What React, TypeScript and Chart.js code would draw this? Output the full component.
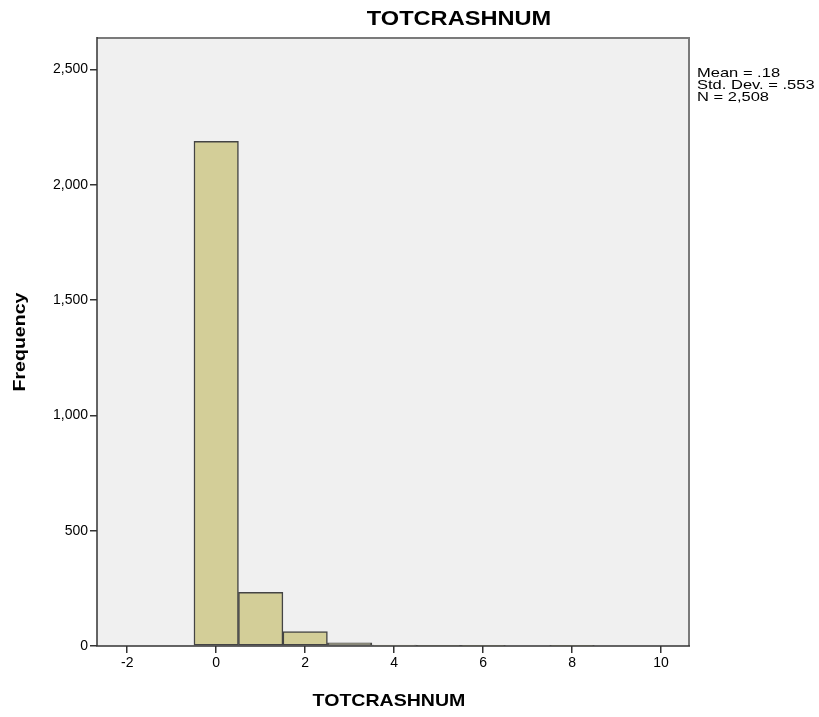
import React, { useEffect, useRef } from "react";
import { Chart, registerables } from "chart.js";

Chart.register(...registerables);

// ---- data ----
const binCenters = [0, 1, 2, 3, 4, 5, 6, 7, 8];
const frequencies = [2188, 233, 62, 14, 4, 3, 2, 0, 2];
const xTickValues = [-2, 0, 2, 4, 6, 8, 10];
const yTickValues = [0, 500, 1000, 1500, 2000, 2500];
const chartTitle = "TOTCRASHNUM";
const xAxisTitle = "TOTCRASHNUM";
const yAxisTitle = "Frequency";
const statsLines = ["Mean = .18", "Std. Dev. = .553", "N = 2,508"];
const xRange = [-2.68, 10.63];
const yRange = [0, 2636];

const FONT = "Arial, 'Liberation Sans', sans-serif";

function drawText(
  ctx: CanvasRenderingContext2D,
  text: string,
  x: number,
  y: number,
  font: string,
  sx: number,
  align: CanvasTextAlign,
  rotate = 0
) {
  ctx.save();
  ctx.translate(x, y);
  if (rotate) ctx.rotate(rotate);
  ctx.scale(sx, 1);
  ctx.font = font;
  ctx.fillStyle = "#000";
  ctx.textAlign = align;
  ctx.textBaseline = "middle";
  ctx.fillText(text, 0, 0);
  ctx.restore();
}

const decorPlugin = {
  id: "decor",
  beforeDraw(chart: any) {
    const { ctx, chartArea: a } = chart;
    ctx.save();
    ctx.fillStyle = "#f0f0f0";
    ctx.fillRect(a.left, a.top, a.right - a.left, a.bottom - a.top);
    ctx.restore();
  },
  afterDatasetsDraw(chart: any) {
    const { ctx, chartArea: a } = chart;
    ctx.save();
    ctx.lineWidth = 2;
    ctx.strokeStyle = "#7a7a7a";
    ctx.beginPath();
    ctx.moveTo(a.left, a.top);
    ctx.lineTo(a.right, a.top);
    ctx.lineTo(a.right, a.bottom);
    ctx.stroke();
    ctx.strokeStyle = "#333";
    ctx.lineWidth = 1.5;
    ctx.beginPath();
    ctx.moveTo(a.left, a.top - 1);
    ctx.lineTo(a.left, a.bottom);
    ctx.lineTo(a.right + 1, a.bottom);
    ctx.stroke();
    ctx.restore();
  },
  afterDraw(chart: any) {
    const { ctx, chartArea: a } = chart;
    drawText(ctx, chartTitle, 459, 19, `bold 20px ${FONT}`, 1.18, "center");
    drawText(ctx, xAxisTitle, (a.left + a.right) / 2 - 4, 701, `bold 17px ${FONT}`, 1.15, "center");
    drawText(ctx, yAxisTitle, 20, (a.top + a.bottom) / 2, `bold 17px ${FONT}`, 1.15, "center", -Math.PI / 2);
    statsLines.forEach((s, i) => {
      drawText(ctx, s, a.right + 8, 73 + i * 12, `13px ${FONT}`, 1.27, "left");
    });
  },
};

export default function App() {
  const ref = useRef<HTMLCanvasElement>(null);
  useEffect(() => {
    if (!ref.current) return;
    const chart = new Chart(ref.current, {
      type: "bar",
      data: {
        datasets: [
          {
            data: binCenters.map((x, i) => ({ x, y: frequencies[i] })),
            backgroundColor: "#d3ce98",
            borderColor: "#444",
            borderWidth: 1.5,
            borderSkipped: false,
            barPercentage: 1,
            categoryPercentage: 1,
          } as any,
        ],
      },
      options: {
        animation: false,
        responsive: false,
        devicePixelRatio: 1,
        layout: { padding: { left: 0, top: 38, right: 130, bottom: 0 } },
        plugins: {
          legend: { display: false },
          tooltip: { enabled: false },
          title: { display: false },
        },
        scales: {
          x: {
            type: "linear",
            offset: false,
            min: xRange[0],
            max: xRange[1],
            afterBuildTicks: (s: any) => {
              s.ticks = xTickValues.map((v) => ({ value: v }));
            },
            afterFit: (s: any) => {
              s.height = 71;
            },
            ticks: {
              autoSkip: false,
              maxRotation: 0,
              padding: 2,
              color: "#000",
              font: { family: FONT, size: 14 },
              callback: (v: any) => String(v),
            },
            grid: {
              offset: false,
              drawOnChartArea: false,
              drawTicks: true,
              tickLength: 7,
              color: "#333",
              lineWidth: 1.5,
            },
            border: { display: false },
          },
          y: {
            type: "linear",
            min: yRange[0],
            max: yRange[1],
            afterBuildTicks: (s: any) => {
              s.ticks = yTickValues.map((v) => ({ value: v }));
            },
            afterFit: (s: any) => {
              s.width = 97;
            },
            ticks: {
              padding: 2,
              color: "#000",
              font: { family: FONT, size: 14 },
              callback: (v: any) => Number(v).toLocaleString("en-US"),
            },
            grid: {
              drawOnChartArea: false,
              drawTicks: true,
              tickLength: 7,
              color: "#333",
              lineWidth: 1.5,
            },
            border: { display: false },
          },
        },
      },
      plugins: [decorPlugin],
    });
    return () => chart.destroy();
  }, []);
  return (
    <div style={{ position: "absolute", left: 0, top: 0, width: 819, height: 717, background: "#fff" }}>
      <canvas ref={ref} width={819} height={717} />
    </div>
  );
}
